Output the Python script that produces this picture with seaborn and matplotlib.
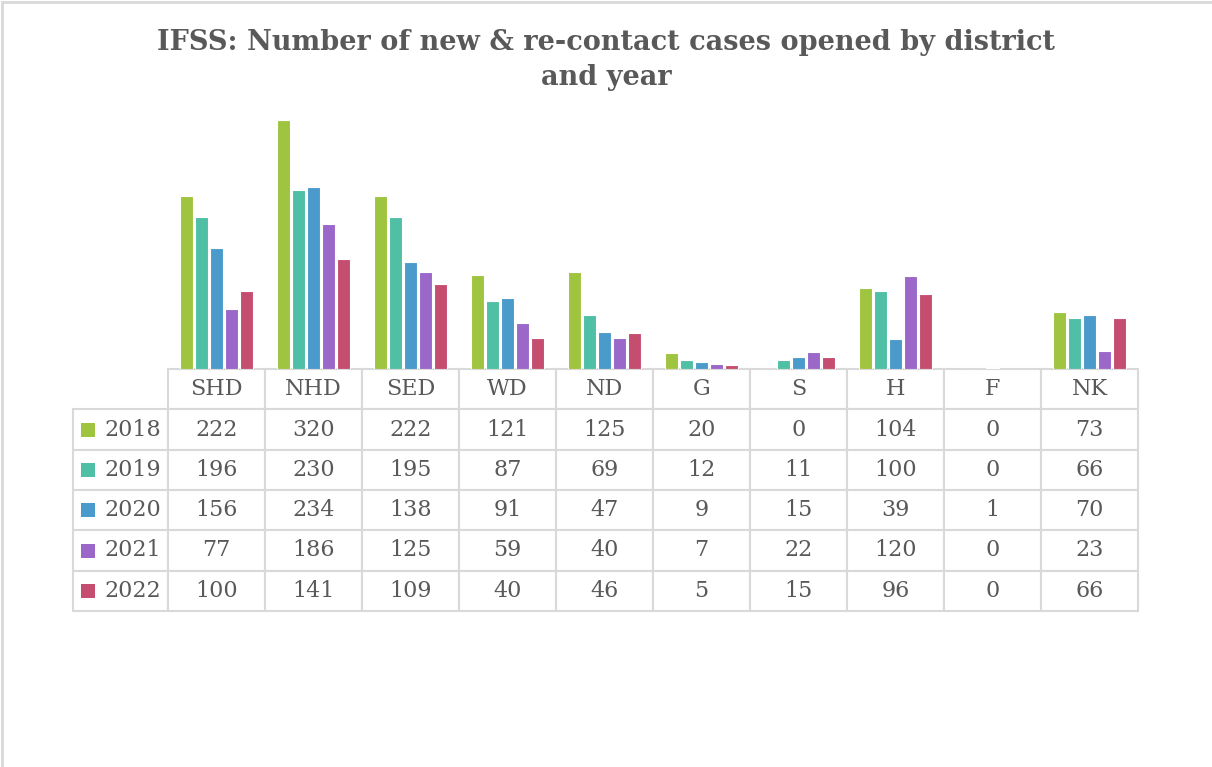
import numpy as np
import pandas as pd
import seaborn as sns
import matplotlib.pyplot as plt
from matplotlib.patches import Rectangle

districts = ['SHD', 'NHD', 'SED', 'WD', 'ND', 'G', 'S', 'H', 'F', 'NK']
years = ['2018', '2019', '2020', '2021', '2022']
cases_2018 = [222, 320, 222, 121, 125, 20, 0, 104, 0, 73]
cases_2019 = [196, 230, 195, 87, 69, 12, 11, 100, 0, 66]
cases_2020 = [156, 234, 138, 91, 47, 9, 15, 39, 1, 70]
cases_2021 = [77, 186, 125, 59, 40, 7, 22, 120, 0, 23]
cases_2022 = [100, 141, 109, 40, 46, 5, 15, 96, 0, 66]
colors = ['#9fc43f', '#4fbfa5', '#4a9bcb', '#9b67c8', '#c44d70']

title = 'IFSS: Number of new & re-contact cases opened by district\nand year'

series = [cases_2018, cases_2019, cases_2020, cases_2021, cases_2022]
df = pd.DataFrame({
    'district': districts * len(years),
    'year': np.repeat(years, len(districts)),
    'cases': np.concatenate(series),
})

sns.set_theme(style='white')
plt.rcParams['font.family'] = ['DejaVu Serif']
text_col = '#595959'
grid_col = '#d9d9d9'

W, H = 1212, 767
fig = plt.figure(figsize=(W / 100, H / 100), dpi=100)

# plot area in pixels: x 168-1138, y 97-369
ax = fig.add_axes([168 / W, 1 - 369 / H, 970 / W, 272 / H])
sns.barplot(data=df, x='district', y='cases', hue='year', palette=colors,
            saturation=1, width=0.77, gap=0.16, legend=False,
            edgecolor='white', linewidth=0.8, ax=ax)
ax.set_xlim(-0.5, len(districts) - 0.5)
ax.set_ylim(0, 350)
ax.set_xlabel('')
ax.set_ylabel('')
ax.set_xticks([])
ax.set_yticks([])
for s in ax.spines.values():
    s.set_visible(False)

# data table under the bars
cell_text = [[''] + districts]
for y, vals in zip(years, series):
    cell_text.append([y] + [str(v) for v in vals])

x0 = (73 - 168) / 970
tw = 1065 / 970
th = (611 - 369) / 272
col_w = [95 / 1065] + [97 / 1065] * len(districts)
tbl = ax.table(cellText=cell_text, colWidths=col_w, cellLoc='center',
               bbox=[x0, -th, tw, th])
tbl.auto_set_font_size(False)
tbl.set_fontsize(16)
for (r, c), cell in tbl.get_celld().items():
    cell.set_edgecolor(grid_col)
    cell.set_linewidth(1.5)
    cell.get_text().set_color(text_col)
    if r == 0 and c == 0:
        cell.visible_edges = ''
    if c == 0 and r > 0:
        cell.get_text().set_ha('right')
        cell.PAD = 0.07

# legend keys in the row-label column
nrows = len(years) + 1
for i, col in enumerate(colors):
    yc = -th + th * (1 - (i + 1.5) / nrows)
    ax.scatter([(88 - 168) / 970], [yc], marker='s', s=95, color=col,
               transform=ax.transAxes, clip_on=False, linewidths=0)

fig.text(0.5, 1 - 29 / H, title, ha='center', va='top', fontsize=19.5,
         fontweight='bold', color=text_col, linespacing=1.4)

# chart border (only top and left are in frame)
fig.patches.append(Rectangle((2 / W, -0.5), 1.5, 1.5 - 2 / H,
                             transform=fig.transFigure, fill=False,
                             edgecolor=grid_col, linewidth=2))

fig.savefig('out.png', dpi=100)
